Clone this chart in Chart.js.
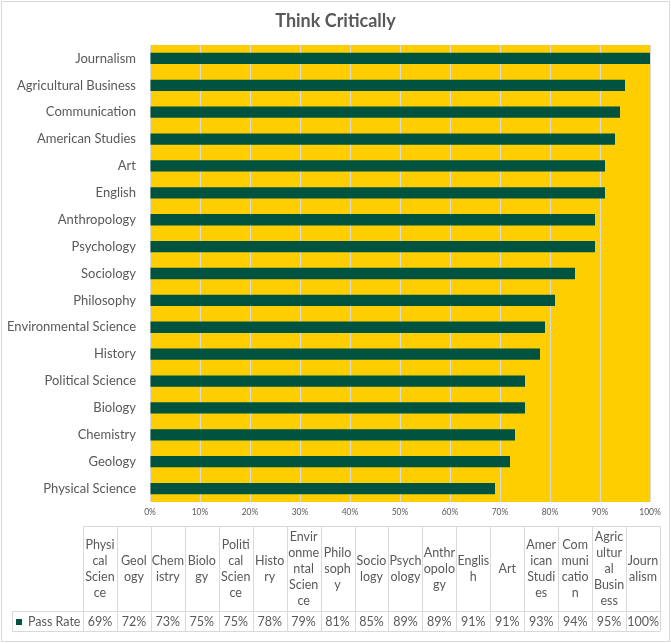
<!DOCTYPE html>
<html>
<head>
<meta charset="utf-8">
<script src="https://cdn.jsdelivr.net/npm/chart.js@4.4.1/dist/chart.umd.min.js"></script>
<style>
  html, body { margin: 0; padding: 0; background: #fff; }
  #wrap { width: 671px; height: 643px; position: relative; }
</style>
</head>
<body>
<div id="wrap"><canvas id="chart"></canvas></div>
<script>
// data, in the table order (bottom bar first)
const categories = [
    "Physical Science", "Geology", "Chemistry", "Biology", "Political Science",
    "History", "Environmental Science", "Philosophy", "Sociology", "Psychology",
    "Anthropology", "English", "Art", "American Studies", "Communication",
    "Agricultural Business", "Journalism"
];
const passRate = [69, 72, 73, 75, 75, 78, 79, 81, 85, 89, 89, 91, 91, 93, 94, 95, 100];

// header of the data table, wrapped as in the picture
const headerLines = [
    ["Physi", "cal", "Scien", "ce"], ["Geol", "ogy"], ["Chem", "istry"], ["Biolo", "gy"],
    ["Politi", "cal", "Scien", "ce"], ["Histo", "ry"], ["Envir", "onme", "ntal", "Scien", "ce"],
    ["Philo", "soph", "y"], ["Socio", "logy"], ["Psych", "ology"], ["Anthr", "opolo", "gy"],
    ["Englis", "h"], ["Art"], ["Amer", "ican", "Studi", "es"], ["Com", "muni", "catio", "n"],
    ["Agric", "ultur", "al", "Busin", "ess"], ["Journ", "alism"]
];
const seriesName = "Pass Rate";
const chartTitle = "Think Critically";

const GREEN = "#00533f";
const YELLOW = "#ffce00";
const TEXT = "#595959";
const LINE = "#d9d9d9";
const FONT = "Lato";

const boxPlugin = {
    id: "box",
    beforeDraw(chart) {
        const { ctx, chartArea: a, width, height } = chart;
        ctx.save();
        ctx.fillStyle = "#fff";
        ctx.fillRect(0, 0, width, height);
        ctx.fillStyle = YELLOW;
        ctx.fillRect(a.left, a.top, a.right - a.left, a.bottom - a.top);
        ctx.strokeStyle = LINE;
        ctx.lineWidth = 1;
        ctx.strokeRect(1.5, 1.5, width - 3, height - 3);
        ctx.restore();
    },
    afterDraw(chart) {
        const { ctx, width } = chart;
        ctx.save();
        // title
        ctx.fillStyle = TEXT;
        ctx.font = `bold 18px ${FONT}`;
        ctx.textAlign = "center";
        ctx.textBaseline = "alphabetic";
        ctx.fillText(chartTitle, width / 2, 27);

        // data table
        const left = 12, colLeft = 83, right = 660;
        const headTop = 526.5, headBottom = 611.5, rowBottom = 631.5;
        const colW = (right - colLeft) / categories.length;
        ctx.strokeStyle = LINE;
        ctx.lineWidth = 1;
        ctx.beginPath();
        ctx.moveTo(colLeft, headTop); ctx.lineTo(right, headTop);
        ctx.moveTo(left, headBottom); ctx.lineTo(right, headBottom);
        ctx.moveTo(left, rowBottom); ctx.lineTo(right, rowBottom);
        ctx.moveTo(left + 0.5, headBottom); ctx.lineTo(left + 0.5, rowBottom);
        for (let i = 0; i <= categories.length; i++) {
            const x = Math.round(colLeft + i * colW) + 0.5;
            ctx.moveTo(x, headTop); ctx.lineTo(x, rowBottom);
        }
        ctx.stroke();

        ctx.fillStyle = TEXT;
        ctx.font = `12.5px ${FONT}`;
        ctx.textAlign = "center";
        ctx.textBaseline = "middle";
        const lh = 16;
        const mid = (headTop + headBottom) / 2;
        headerLines.forEach((lines, i) => {
            const cx = colLeft + (i + 0.5) * colW;
            const y0 = mid - (lines.length - 1) * lh / 2;
            lines.forEach((t, j) => ctx.fillText(t, cx, y0 + j * lh));
        });
        const rowMid = (headBottom + rowBottom) / 2 + 0.5;
        passRate.forEach((v, i) => {
            ctx.fillText(v + "%", colLeft + (i + 0.5) * colW, rowMid);
        });
        ctx.fillStyle = GREEN;
        ctx.fillRect(16, rowMid - 3, 6, 6);
        ctx.fillStyle = TEXT;
        ctx.textAlign = "left";
        ctx.fillText(seriesName, 28, rowMid);
        ctx.restore();
    }
};

Chart.defaults.font.family = FONT;
Chart.defaults.color = TEXT;

new Chart(document.getElementById("chart"), {
    type: "bar",
    data: {
        labels: categories,
        datasets: [{
            label: seriesName,
            data: passRate,
            backgroundColor: GREEN,
            borderWidth: 0,
            categoryPercentage: 1,
            barPercentage: 0.42
        }]
    },
    options: {
        indexAxis: "y",
        responsive: true,
        maintainAspectRatio: false,
        animation: false,
        layout: { padding: { top: 45, left: 0, right: 21, bottom: 116 } },
        plugins: {
            legend: { display: false },
            title: { display: false },
            tooltip: { enabled: false }
        },
        scales: {
            x: {
                min: 0,
                max: 100,
                ticks: {
                    stepSize: 10,
                    padding: 5,
                    font: { size: 8.5 },
                    callback: (v) => v + "%"
                },
                grid: { color: LINE, drawTicks: false },
                border: { display: false },
                afterFit(scale) { scale.height = 25; }
            },
            y: {
                reverse: true,
                ticks: { padding: 14, font: { size: 13 } },
                grid: { display: false, drawTicks: false },
                border: { display: false },
                afterFit(scale) { scale.width = 150; }
            }
        }
    },
    plugins: [boxPlugin]
});
</script>
</body>
</html>
